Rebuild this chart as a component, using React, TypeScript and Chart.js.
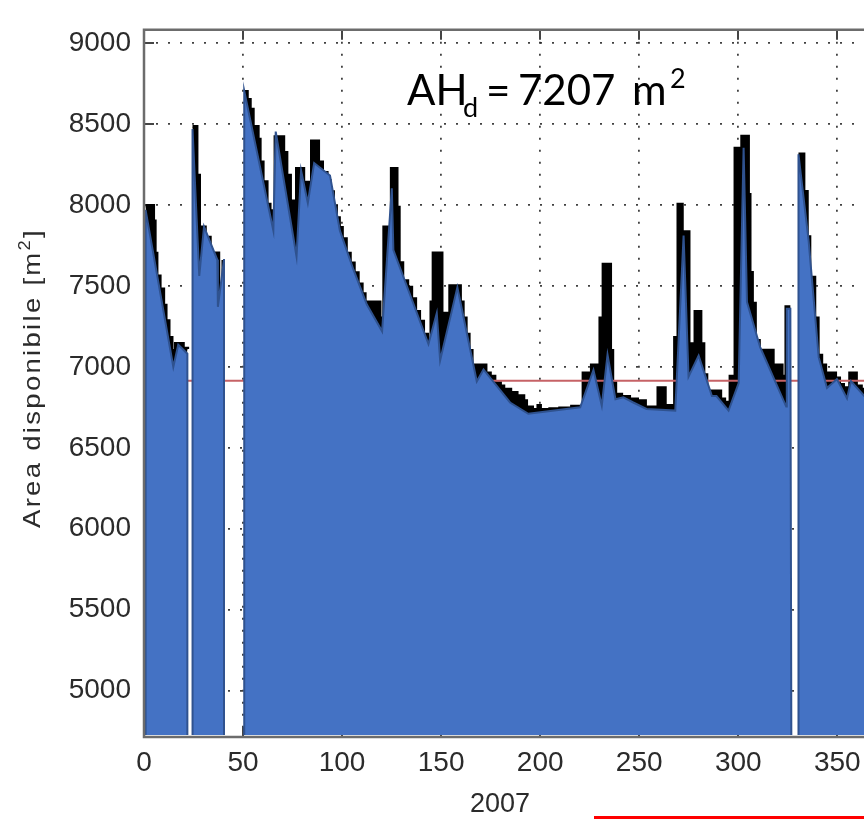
import { useEffect, useRef } from "react";
import { Chart, registerables } from "chart.js";

Chart.register(...registerables);

// Axis ranges and ticks
const dayMin = 0;
const dayMax = 366;
const areaMin = 4713;
const areaMax = 9083;
const xTickValues = [0, 50, 100, 150, 200, 250, 300, 350];
const yTickValues = [5000, 5500, 6000, 6500, 7000, 7500, 8000, 8500, 9000];

// Reference level and base of the shaded blocks
const thresholdArea = 6915;
const baseArea = 4725;

// Daily available area (stair trace); null marks missing days
const rawDays = [
  0.8, 4.7, 5.5, 6.4, 8.0, 9.8, 11.0, 12.5, 14.0, 16.0, 19.7, 21.9, 23.3,
  24.5, 26.6, 27.9, 30.8, 33.3, 37.6, 40.0, 40.4, 45.0,
  50.6, 52.0, 53.5, 55.0, 57.5, 58.5, 60.0, 62.0, 63.5, 64.8, 66.3, 70.4, 72.0, 73.8, 75.5, 76.5,
  77.1, 80.5, 84.7, 88.0, 90.0, 92.3, 93.8, 95.5, 97.0, 98.5, 100.0, 102.0, 104.0, 106.0, 108.0,
  110.0, 111.5, 119.0, 119.8, 121.2, 125.0, 127.6, 128.7, 130.5, 133.0, 135.0, 137.0, 139.0,
  141.0, 143.0, 145.0, 146.1, 150.3, 152.0, 154.5, 159.6, 161.0, 162.5, 164.0, 165.5, 172.5,
  174.7, 177.0, 179.8, 181.5, 185.0, 188.2, 191.6, 193.0, 196.0, 199.0, 200.0, 205.0, 210.0,
  216.0, 221.8, 226.0, 230.3, 231.9, 235.4, 236.5, 238.0, 241.0, 245.0, 249.0, 253.0, 259.6,
  263.0, 268.0, 269.7, 271.6, 275.0, 278.3, 281.0, 282.5, 284.0, 291.0, 293.0, 296.0, 298.5,
  301.9, 305.0, 305.8, 307.0, 308.5, 310.5, 317.5, 322.0, 323.5, 324.2, 326.3, 328.5,
  330.4, 333.0, 334.7, 336.0, 338.5, 340.2, 342.0, 344.0, 349.0, 351.0, 353.0, 356.4, 359.5,
  362.0, 364.0, 366.0,
];
const rawArea = [
  7995, 7900, 7700, 7560, 7480, 7380, 7283, 7180, 7100, 7143, 7113, 7110, null,
  8484, 8183, 7863, 7800, 7702, 7380, 7650, 7650, null,
  8700, 8650, 8590, 8484, 8405, 8264, 8143, 8003, 7963, 7850, 8420, 8324, 8183, 8023, 7863, 7700,
  8225, 8140, 8395, 8265, 8200, 8150, 8080, 7990, 7920, 7860, 7790, 7700, 7640, 7580, 7510,
  7450, 7400, 7300, 7240, 7863, 8224, 7985, 7642, 7530, 7490, 7420, 7340, 7280,
  7200, 7160, 7400, 7702, 7250, 7330, 7500, 7400, 7300, 7200, 7100, 7010, 6960,
  6940, 6900, 6880, 6860, 6840, 6820, 6790, 6750, 6735, 6760, 6735, 6740, 6745,
  6755, 6960, 7010, 7300, 7632, 7100, 6900, 6830, 6815, 6800, 6790, 6750, 6870,
  6760, 7180, 8003, 7833, 7141, 7341, 7141, 6950, 6850, 6800, 6780, 6940, 8350,
  8424, 8063, 7582, 7391, 7161, 7101, 7010, 6940, 6870, 7370, 7370, null,
  8314, 8083, 7803, 7552, 7300, 7070, 7010, 6960, 6930, 6890, 6870, 6960, 6880,
  6860, 6840, 6830,
];

// Shaded envelope blocks: [day, area]
const blockJan: [number, number][] = [
  [0.8, baseArea], [0.8, 7970], [14.8, 7000], [17.3, 7137], [21.9, 7081], [21.9, baseArea],
];
const blockFeb: [number, number][] = [
  [24.5, baseArea], [24.5, 8470], [27.9, 7562], [30.3, 7866], [37.0, 7662], [37.3, 7371],
  [40.4, 7666], [40.4, baseArea],
];
const blockMain: [number, number][] = [
  [50.6, baseArea], [50.6, 8705], [65.3, 7842], [66.5, 8454], [77.0, 7682], [79.3, 8214],
  [82.7, 8013], [85.9, 8260], [93.9, 8183], [98.9, 7842], [105.7, 7602], [112.5, 7385],
  [120.2, 7220], [125.1, 8103], [125.9, 7722], [143.6, 7141], [147.8, 7331], [149.5, 7040],
  [158.2, 7492], [168.0, 6910], [171.4, 6984], [184.8, 6780], [194.0, 6710], [220.2, 6750],
  [226.9, 6980], [231.1, 6760], [234.0, 7075], [238.0, 6800], [242.0, 6812], [247.0, 6780],
  [253.7, 6740], [268.2, 6730], [272.4, 7812], [274.9, 6940], [280.0, 7070], [286.7, 6820],
  [289.0, 6820], [295.1, 6730], [300.2, 6900], [302.7, 8354], [304.4, 7401], [311.1, 7120],
  [324.2, 6755], [324.5, 7360], [326.3, 7360], [326.8, baseArea],
];
const blockEnd: [number, number][] = [
  [330.4, baseArea], [330.4, 8314], [335.5, 7782], [340.6, 7060], [344.8, 6870], [349.8, 6925],
  [354.9, 6805], [356.9, 6912], [363.6, 6820], [366.0, 6800], [366.0, baseArea],
];

const yTitle = "Area disponibile [m";
const yTitleSup = "2";
const xTitle = "2007";

const tickFont = { family: "'Liberation Sans', Arial, sans-serif", size: 28 };
const axisColor = "#6c6c6c";
const textColor = "#2b2b2b";

const toPoints = (pairs: [number, number][]) => pairs.map(([x, y]) => ({ x, y }));

const blockDataset = (pairs: [number, number][]) => ({
  data: toPoints(pairs),
  borderColor: "#2F528F",
  borderWidth: 2,
  backgroundColor: "#4472C4",
  fill: { value: baseArea },
  pointRadius: 0,
  tension: 0,
  order: 0,
});

const framePlugin = {
  id: "matlabFrame",
  beforeDatasetsDraw(chart: any) {
    const { ctx, chartArea: a, scales } = chart;
    ctx.save();
    ctx.strokeStyle = "#444";
    ctx.lineWidth = 2;
    ctx.beginPath();
    for (const v of yTickValues) {
      const y = Math.round(scales.y.getPixelForValue(v));
      ctx.moveTo(a.left, y);
      ctx.lineTo(a.left + 10, y);
    }
    for (const v of xTickValues) {
      const x = Math.round(scales.x.getPixelForValue(v));
      ctx.moveTo(x, a.top);
      ctx.lineTo(x, a.top + 10);
      ctx.moveTo(x, a.bottom);
      ctx.lineTo(x, a.bottom - 10);
    }
    ctx.stroke();
    ctx.restore();
  },
  afterDatasetsDraw(chart: any) {
    const { ctx, chartArea: a } = chart;
    ctx.save();
    ctx.strokeStyle = axisColor;
    ctx.lineWidth = 2.5;
    ctx.beginPath();
    ctx.moveTo(a.right + 5, a.top);
    ctx.lineTo(a.left, a.top);
    ctx.lineTo(a.left, a.bottom);
    ctx.lineTo(a.right + 5, a.bottom);
    ctx.stroke();
    ctx.restore();
  },
  afterDraw(chart: any) {
    const { ctx } = chart;
    ctx.save();

    // y-axis title, rotated
    ctx.fillStyle = textColor;
    ctx.translate(40, 378);
    ctx.rotate(-Math.PI / 2);
    ctx.letterSpacing = "2px";
    ctx.font = "24px 'Liberation Sans', Arial, sans-serif";
    const w1 = ctx.measureText(yTitle).width;
    const w3 = ctx.measureText("]").width;
    ctx.font = "16px 'Liberation Sans', Arial, sans-serif";
    const w2 = ctx.measureText(yTitleSup).width;
    const total = w1 + w2 + w3;
    const sx = 300 / total;
    ctx.scale(sx, 1);
    let tx = -total / 2;
    ctx.textBaseline = "alphabetic";
    ctx.font = "24px 'Liberation Sans', Arial, sans-serif";
    ctx.fillText(yTitle, tx, 0);
    tx += w1;
    ctx.font = "16px 'Liberation Sans', Arial, sans-serif";
    ctx.fillText(yTitleSup, tx, -10);
    tx += w2;
    ctx.font = "24px 'Liberation Sans', Arial, sans-serif";
    ctx.fillText("]", tx, 0);
    ctx.restore();

    // x-axis title
    ctx.save();
    ctx.fillStyle = textColor;
    ctx.font = "27px 'Liberation Sans', Arial, sans-serif";
    ctx.textAlign = "center";
    ctx.textBaseline = "alphabetic";
    ctx.fillText(xTitle, 500, 812);
    ctx.restore();

    // annotation AH_d = 7207 m²
    ctx.save();
    ctx.fillStyle = "#000";
    ctx.textBaseline = "alphabetic";
    const big = "42px Lato, 'Open Sans', sans-serif";
    const small = "27px Lato, 'Open Sans', sans-serif";
    ctx.font = big;
    ctx.fillText("AH", 407, 105);
    ctx.font = small;
    ctx.fillText("d", 463, 116.5);
    ctx.font = big;
    ctx.fillText("=", 486, 105);
    ctx.fillText("7207", 518, 105);
    ctx.fillText("m", 632, 105);
    ctx.font = small;
    ctx.fillText("2", 670, 88);
    ctx.restore();
  },
};

export default function App() {
  const canvasRef = useRef<HTMLCanvasElement | null>(null);

  useEffect(() => {
    const canvas = canvasRef.current;
    if (!canvas) return;

    const rawPoints = rawDays.map((d, i) => ({ x: d, y: rawArea[i] }));

    const chart = new Chart(canvas, {
      type: "line",
      data: {
        datasets: [
          blockDataset(blockJan),
          blockDataset(blockFeb),
          blockDataset(blockMain),
          blockDataset(blockEnd),
          {
            data: [
              { x: dayMin, y: thresholdArea },
              { x: dayMax, y: thresholdArea },
            ],
            borderColor: "rgb(198, 98, 102)",
            borderWidth: 2,
            pointRadius: 0,
            fill: false,
            order: 1,
          },
          {
            data: rawPoints,
            borderColor: "#000",
            backgroundColor: "#000",
            borderWidth: 3.5,
            stepped: "before",
            pointRadius: 0,
            fill: { value: baseArea },
            spanGaps: false,
            order: 2,
          },
        ] as any,
      },
      options: {
        responsive: false,
        animation: false,
        devicePixelRatio: 1,
        events: [],
        layout: { padding: { left: 0, top: 11, right: 11, bottom: 0 } },
        plugins: {
          legend: { display: false },
          tooltip: { enabled: false },
        },
        scales: {
          x: {
            type: "linear",
            min: dayMin,
            max: dayMax,
            afterBuildTicks: (scale: any) => {
              scale.ticks = xTickValues.map((v) => ({ value: v }));
            },
            afterFit: (scale: any) => {
              scale.height = 82;
            },
            ticks: {
              font: tickFont,
              color: textColor,
              padding: 9,
              maxRotation: 0,
              autoSkip: false,
              callback: (v: any) => String(v),
            },
            grid: {
              color: "rgba(30,30,30,0.85)",
              lineWidth: 1.8,
              drawTicks: false,
            },
            border: { display: false, dash: [2, 10] },
          },
          y: {
            type: "linear",
            min: areaMin,
            max: areaMax,
            afterBuildTicks: (scale: any) => {
              scale.ticks = yTickValues.map((v) => ({ value: v }));
            },
            afterFit: (scale: any) => {
              scale.width = 144;
            },
            ticks: {
              font: tickFont,
              color: textColor,
              padding: 13,
              autoSkip: false,
              callback: (v: any) => String(v),
            },
            grid: {
              color: "rgba(30,30,30,0.85)",
              lineWidth: 1.8,
              drawTicks: false,
            },
            border: { display: false, dash: [2, 10] },
          },
        },
      } as any,
      plugins: [framePlugin],
    });

    return () => {
      chart.destroy();
    };
  }, []);

  return (
    <div
      style={{
        position: "fixed",
        left: 0,
        top: 0,
        width: 864,
        height: 819,
        overflow: "hidden",
        background: "#fff",
      }}
    >
      <canvas
        ref={canvasRef}
        width={880}
        height={819}
        style={{ display: "block", width: 880, height: 819 }}
      />
      <div
        style={{
          position: "absolute",
          left: 594,
          top: 816,
          width: 270,
          height: 3,
          background: "#ff0000",
        }}
      />
    </div>
  );
}
